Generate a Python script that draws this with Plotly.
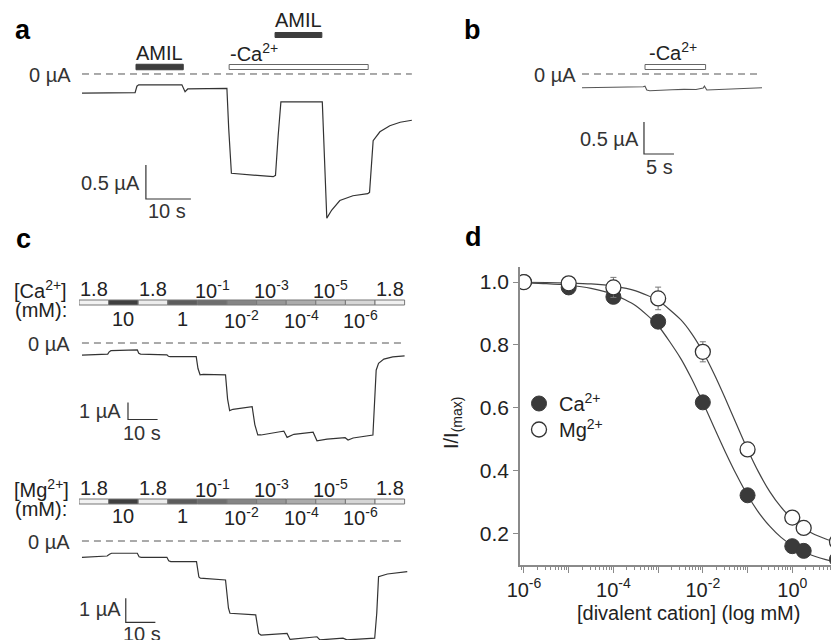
import plotly.graph_objects as go

W, H = 831, 640
FONT = "Liberation Sans, Arial, Helvetica, sans-serif"
TXT = "#222222"
FS = 20


def px(x):
    return x / W


def py(y):
    return 1 - y / H


# ---------------- data ----------------
# panel a : whole-cell current (µA) vs time (s)
a_time = [0, 11.8, 12.2, 12.6, 22.2, 22.5, 22.9, 23.5, 32.2, 32.6, 33.2, 42.5, 43.0, 43.6,
          44.2, 53.4, 53.9, 54.4, 55.5, 57.3, 60.2, 63.5, 63.9, 64.7, 66.2, 68.4, 70.7, 73.3]
a_curr = [-0.28, -0.275, -0.18, -0.16, -0.16, -0.2, -0.26, -0.22, -0.21, -0.8, -1.46, -1.51,
          -1.49, -0.9, -0.41, -0.41, -1.2, -2.12, -2.0, -1.86, -1.79, -1.76, -1.74, -0.98,
          -0.85, -0.76, -0.71, -0.68]
a_amil = [(12.0, 22.5), (42.9, 53.3)]
a_noca = (32.7, 63.6)

# panel b
b_time = [0, 3, 6, 9, 10.2, 10.5, 10.8, 11.3, 12.5, 13.2, 15, 17, 19, 20.2, 20.4, 20.8,
          22, 25, 28, 30]
b_curr = [-0.214, -0.21, -0.215, -0.212, -0.2, -0.19, -0.25, -0.262, -0.26, -0.25, -0.245,
          -0.24, -0.242, -0.22, -0.19, -0.25, -0.245, -0.232, -0.222, -0.216]
b_noca = (10.5, 20.6)

# panel c : concentration steps (10 s each)
c_steps_top = ["1.8", "1.8", "10<sup>-1</sup>", "10<sup>-3</sup>", "10<sup>-5</sup>", "1.8"]
c_steps_bot = ["10", "1", "10<sup>-2</sup>", "10<sup>-4</sup>", "10<sup>-6</sup>"]
c_step_len = 10
c_step_colors = ["#f2f2f2", "#3f3f3f", "#ececec", "#5c5c5c", "#6e6e6e", "#858585",
                 "#979797", "#ababab", "#c0c0c0", "#d6d6d6", "#f0f0f0"]

ca_time = [1, 9.7, 10.2, 10.8, 19.7, 20.2, 20.8, 29.7, 30.2, 30.8, 39.6, 40.2, 40.9, 42,
           49.5, 50.2, 50.9, 52, 58.5, 59.4, 60.4, 61.5, 67.9, 69.2, 70.3, 72.6, 79.1, 80.4,
           83.8, 89.9, 90.9, 92.6, 99.3, 99.9, 100.4, 101.2, 103, 106, 110]
ca_curr = [-0.71, -0.65, -0.52, -0.45, -0.41, -0.6, -0.65, -0.7, -0.78, -0.8, -0.8, -1.5,
           -1.87, -1.85, -1.88, -3.3, -3.98, -3.9, -3.75, -4.8, -5.41, -5.41, -5.22, -5.18,
           -5.55, -5.37, -5.25, -5.75, -5.66, -5.57, -5.71, -5.59, -5.41, -3.5, -1.6, -1.2,
           -0.95, -0.82, -0.76]

mg_time = [1, 9.5, 10.3, 11, 19.7, 20.3, 21, 29.7, 30.3, 31, 39.7, 40.5, 41, 49.5, 50.5, 51,
           59.7, 60.7, 61.5, 70.3, 71.3, 74.7, 80.4, 81.4, 83.8, 89.2, 90.5, 94.9, 99.9, 100.6,
           101.2, 104.2, 110.9]
mg_curr = [-0.68, -0.625, -0.55, -0.51, -0.51, -0.66, -0.68, -0.68, -0.82, -0.86, -0.86, -1.5,
           -1.55, -1.625, -2.8, -3.01, -3.08, -3.85, -3.92, -3.85, -4.1, -4.05, -3.99, -4.12,
           -4.1, -4.05, -4.12, -4.1, -4.05, -3.0, -1.49, -1.375, -1.28]

# panel d : dose-response
conc = [1e-6, 1e-5, 1e-4, 1e-3, 1e-2, 1e-1, 1, 1.8, 10]
d_ca = [1.0, 0.983, 0.953, 0.874, 0.617, 0.321, 0.159, 0.144, 0.117]
d_mg = [1.0, 0.996, 0.983, 0.948, 0.778, 0.467, 0.25, 0.217, 0.173]
d_mg_err = [0, 0, 0.032, 0.036, 0.032, 0, 0, 0, 0]
fit_logc = [-6, -5.5, -5, -4.5, -4, -3.5, -3, -2.5, -2.25, -2, -1.75, -1.5, -1.25, -1,
            -0.75, -0.5, -0.25, 0, 0.25, 0.5, 0.75, 0.9]
fit_ca = [0.9975, 0.995, 0.990, 0.980, 0.961, 0.925, 0.861, 0.758, 0.692, 0.617, 0.538,
          0.460, 0.387, 0.321, 0.266, 0.222, 0.187, 0.161, 0.141, 0.127, 0.116, 0.111]
fit_mg = [0.9994, 0.9987, 0.997, 0.994, 0.987, 0.972, 0.941, 0.881, 0.836, 0.778, 0.708,
          0.630, 0.548, 0.467, 0.394, 0.332, 0.283, 0.245, 0.216, 0.196, 0.182, 0.175]
x_ticks = [1e-6, 1e-5, 1e-4, 1e-3, 1e-2, 1e-1, 1]
x_ticktext = ["10<sup>-6</sup>", "", "10<sup>-4</sup>", "", "10<sup>-2</sup>", "", "10<sup>0</sup>"]
y_ticks = [0.2, 0.4, 0.6, 0.8, 1.0]

# ---------------- figure ----------------
fig = go.Figure()
LINE = dict(color="#333333", width=1.2)


def trace(x, y, xa, ya, line=LINE):
    fig.add_trace(go.Scatter(x=x, y=y, mode="lines", line=line, xaxis=xa, yaxis=ya,
                             showlegend=False, hoverinfo="skip"))


trace(a_time, a_curr, "x", "y")
trace(b_time, b_curr, "x2", "y2", dict(color="#555555", width=1.1))
trace(ca_time, ca_curr, "x3", "y3")
trace(mg_time, mg_curr, "x4", "y4")

fit_x = [10 ** e for e in fit_logc]
trace(fit_x, fit_ca, "x5", "y5", dict(color="#444444", width=1.2, shape="spline", smoothing=0.6))
trace(fit_x, fit_mg, "x5", "y5", dict(color="#444444", width=1.2, shape="spline", smoothing=0.6))
fig.add_trace(go.Scatter(x=conc, y=d_ca, mode="markers", name="Ca<sup>2+</sup>",
                         marker=dict(size=15, color="#3a3a3a", line=dict(color="#3a3a3a", width=1)),
                         xaxis="x5", yaxis="y5", hoverinfo="skip", legend="legend"))
fig.add_trace(go.Scatter(x=conc, y=d_mg, mode="markers", name="Mg<sup>2+</sup>",
                         marker=dict(size=15, color="white", line=dict(color="#333333", width=1.3)),
                         error_y=dict(type="data", array=d_mg_err, color="#777777", thickness=1, width=3),
                         xaxis="x5", yaxis="y5", hoverinfo="skip", legend="legend2"))

shapes = []
annots = []


def ann(x, y, text, size=FS, xanchor="center", yanchor="middle", bold=False, color=TXT, **kw):
    t = "<b>%s</b>" % text if bold else text
    d = dict(x=px(x), y=py(y), xref="paper", yref="paper", text=t, showarrow=False,
             xanchor=xanchor, yanchor=yanchor, font=dict(family=FONT, size=size, color=color))
    d.update(kw)
    annots.append(d)


def zero_line(xa, ya, t0, t1):
    shapes.append(dict(type="line", xref=xa, yref=ya, x0=t0, x1=t1, y0=0, y1=0,
                       line=dict(color="#555555", width=1, dash="7px,5px")))


def scale_bar(xa, ya, t0, i0, dt, di):
    shapes.append(dict(type="path", xref=xa, yref=ya,
                       path="M %f %f L %f %f L %f %f" % (t0, i0 + di, t0, i0, t0 + dt, i0),
                       line=dict(color="#333333", width=1.2)))


def bar(xa, t0, t1, yc, h, fill, lc):
    shapes.append(dict(type="rect", xref=xa, yref="paper", x0=t0, x1=t1,
                       y0=py(yc + h / 2), y1=py(yc - h / 2), fillcolor=fill,
                       line=dict(color=lc, width=1)))


# panel a
zero_line("x", "y", a_time[0], a_time[-1])
bar("x", a_amil[0][0], a_amil[0][1], 67, 5.5, "#3d3d3d", "#3d3d3d")
bar("x", a_amil[1][0], a_amil[1][1], 35, 5, "#3d3d3d", "#3d3d3d")
bar("x", a_noca[0], a_noca[1], 67, 5, "white", "#666666")
scale_bar("x", "y", 14.2, -1.838, 10, 0.5)
ann(23, 30, "a", size=27, bold=True, color="black")
ann(159, 53, "AMIL")
ann(298, 20, "AMIL")
ann(228, 52, "-Ca<sup>2+</sup>", xanchor="left")
ann(73, 75, "0 µA", xanchor="right", color="#333")
ann(142, 183, "0.5 µA", xanchor="right", color="#333")
ann(167, 211, "10 s", color="#333")

# panel b
zero_line("x2", "y2", b_time[0], b_time[-1])
bar("x2", b_noca[0], b_noca[1], 67, 5, "white", "#666666")
scale_bar("x2", "y2", 10.33, -1.25, 5, 0.5)
ann(472, 30, "b", size=27, bold=True, color="black")
ann(578, 75, "0 µA", xanchor="right", color="#333")
ann(673, 51, "-Ca<sup>2+</sup>")
ann(641, 139, "0.5 µA", xanchor="right", color="#333")
ann(659, 167, "5 s", color="#333")

# panel c
ann(23, 239, "c", size=27, bold=True, color="black")
for (xa, ya, ion, bar_y, ctr_top, ctr_bot, zero_y, sb) in [
        ("x3", "y3", "Ca", 302.5, 289, 319, 343, (16.55, -4.5, 1.0, 411, 433)),
        ("x4", "y4", "Mg", 501.5, 488, 516, 541, (15.8, -3.39, 1.0, 609, 634))]:
    for k, col in enumerate(c_step_colors):
        bar(xa, k * c_step_len, (k + 1) * c_step_len, bar_y, 5, col, "#777777")
    for k, lab in enumerate(c_steps_top):
        annots.append(dict(x=(2 * k + 0.5) * c_step_len, y=py(ctr_top), xref=xa, yref="paper",
                           text=lab, showarrow=False, xanchor="center", yanchor="middle",
                           font=dict(family=FONT, size=FS, color=TXT)))
    for k, lab in enumerate(c_steps_bot):
        annots.append(dict(x=(2 * k + 1.5) * c_step_len, y=py(ctr_bot), xref=xa, yref="paper",
                           text=lab, showarrow=False, xanchor="center", yanchor="middle",
                           font=dict(family=FONT, size=FS, color=TXT)))
    ann(12, ctr_top, "[%s<sup>2+</sup>]" % ion, xanchor="left")
    ann(13, ctr_top + 21, "(mM):", xanchor="left")
    ann(72, zero_y + 1, "0 µA", xanchor="right", color="#333")
    zero_line(xa, ya, 1, 110)
    t0, i0, di, ty1, ty2 = sb
    scale_bar(xa, ya, t0, i0, c_step_len, di)
    ann(123, ty1, "1 µA", xanchor="right", color="#333")
    ann(142, ty2, "10 s", color="#333")

# panel d
ann(473, 237, "d", size=27, bold=True, color="black")
ann(452, 423, "I/I<sub>(max)</sub>", size=FS, textangle=-90)
ann(688, 613, "[divalent cation] (log mM)", size=FS)

minor_vals = [m * 10 ** e for e in range(-7, 1) for m in range(2, 10)]
AX = "#8a8a8a"


def hidden(domain, rng, anchor):
    return dict(domain=domain, range=rng, visible=False, anchor=anchor, fixedrange=True,
                showgrid=False, zeroline=False, automargin=False)


LEG = dict(xanchor="left", yanchor="top", font=dict(family=FONT, size=FS, color=TXT),
           bgcolor="rgba(0,0,0,0)", itemsizing="trace")

fig.update_layout(
    width=W, height=H, margin=dict(l=0, r=0, t=0, b=0, autoexpand=False),
    paper_bgcolor="white", plot_bgcolor="rgba(0,0,0,0)",
    font=dict(family=FONT, color=TXT),
    xaxis=hidden([px(82), px(415)], [0, 74], "y"),
    yaxis=hidden([py(230), py(10)], [-2.294, 0.941], "x"),
    xaxis2=hidden([px(582), px(765)], [0, 30.5], "y2"),
    yaxis2=hidden([py(230), py(10)], [-2.4375, 1.0], "x2"),
    xaxis3=hidden([px(79), px(408)], [0, 111.15], "y3"),
    yaxis3=hidden([py(450), py(330)], [-6.294, 0.765], "x3"),
    xaxis4=hidden([px(79), px(408)], [0, 111.15], "y4"),
    yaxis4=hidden([py(640), py(528)], [-4.125, 0.5417], "x4"),
    xaxis5=dict(domain=[px(520), 1.0], type="log", range=[-6.089, 0.866], anchor="y5",
                showline=True, linecolor=AX, linewidth=1.5, ticks="outside", ticklen=6,
                tickcolor=AX, tickwidth=1.2, tickmode="array", tickvals=x_ticks,
                ticktext=x_ticktext, tickfont=dict(size=FS, color=TXT), showgrid=False,
                zeroline=False, automargin=False,
                minor=dict(ticks="outside", ticklen=3, tickcolor=AX, tickwidth=1,
                           tickmode="array", tickvals=minor_vals, showgrid=False)),
    yaxis5=dict(domain=[py(565), py(266.7)], range=[0.099, 1.049], anchor="x5",
                showline=True, linecolor=AX, linewidth=1.5, ticks="outside", ticklen=5,
                tickcolor=AX, tickwidth=1.2, tickmode="array", tickvals=y_ticks,
                tickformat=".1f", tickfont=dict(size=21, color=TXT), showgrid=False,
                zeroline=False, automargin=False),
    shapes=shapes, annotations=annots,
    showlegend=True,
    legend=dict(x=px(519), y=py(384), **LEG),
    legend2=dict(x=px(519), y=py(410), **LEG),
)

fig.write_html("out.html", config={"displayModeBar": False},
               post_script="document.body.style.margin='0px';")
